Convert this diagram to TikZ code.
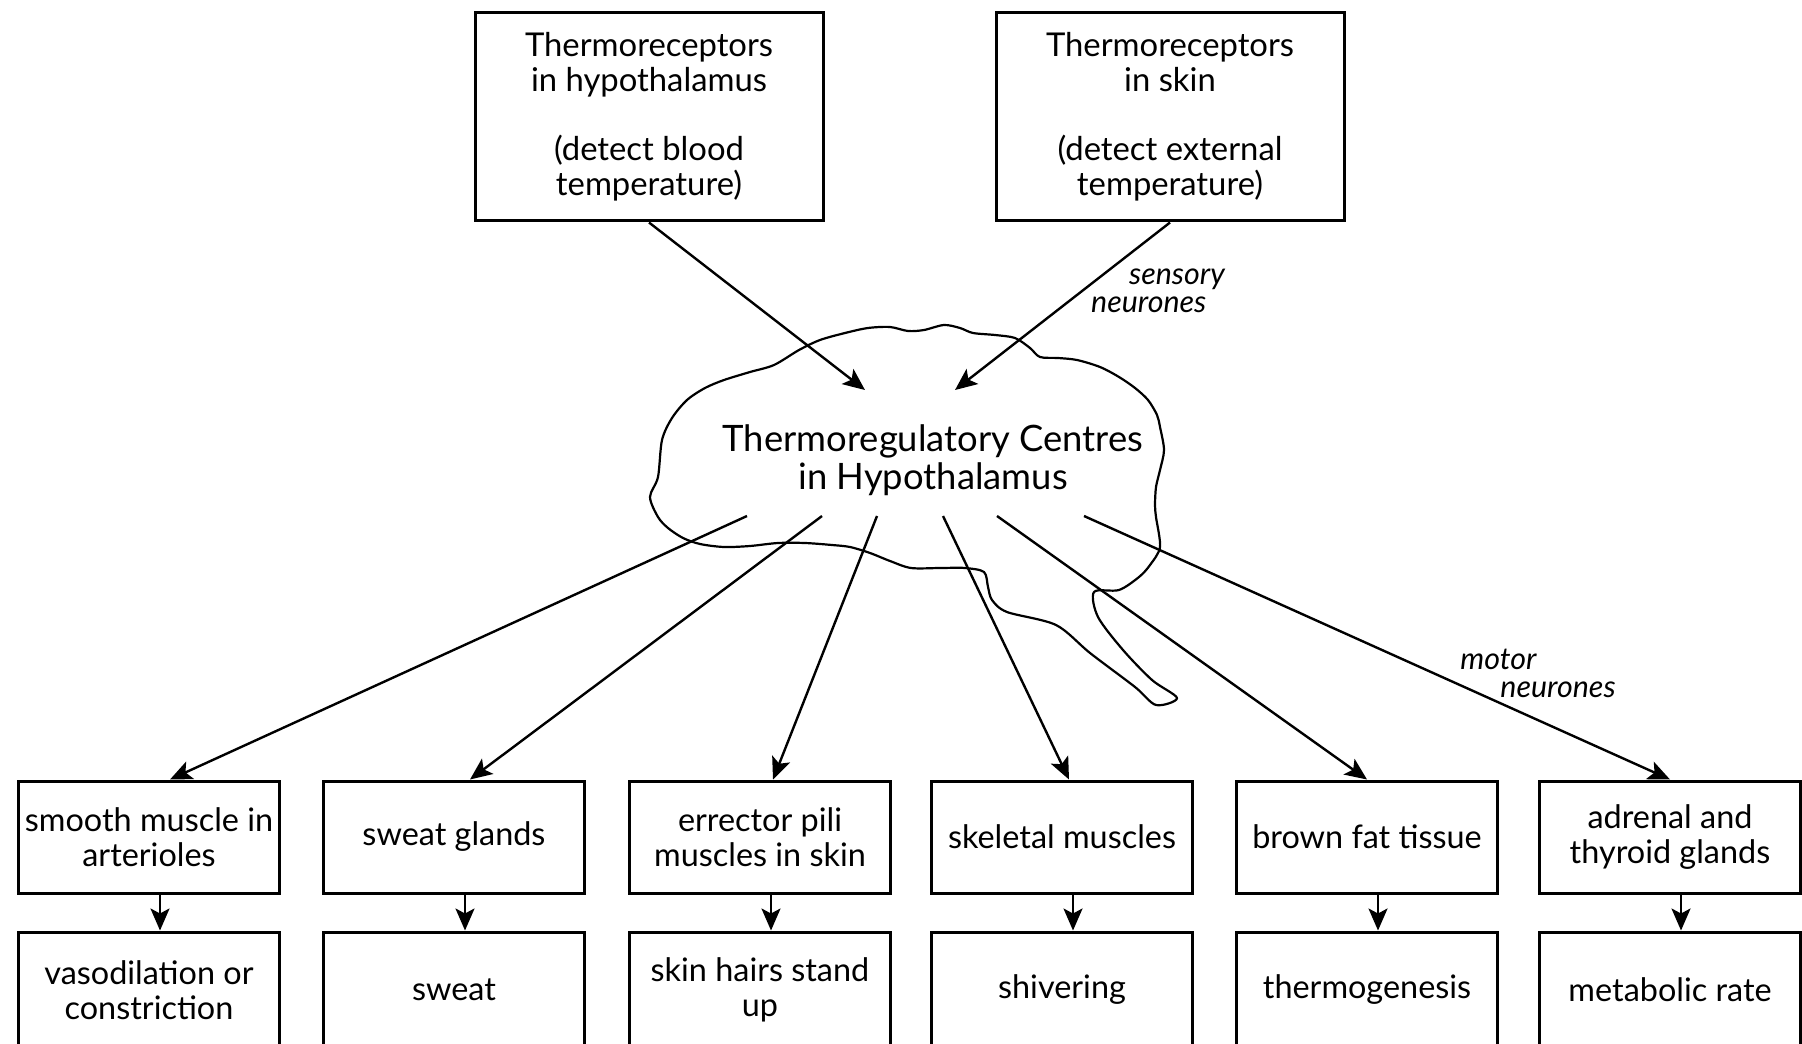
\documentclass[tikz,border=0pt]{standalone}
\usepackage{fontspec}
\setmainfont{Lato}
\usetikzlibrary{arrows.meta}
\tikzset{
  recv/.style={draw,line width=1.5pt,minimum width=174pt,minimum height=104pt,align=center,inner sep=2pt,font=\fontsize{16.4}{17.5}\selectfont},
  organ/.style={draw,line width=1.5pt,minimum width=130.5pt,minimum height=56pt,align=center,inner sep=1pt,font=\fontsize{16.2}{17.5}\selectfont},
  effect/.style={organ,minimum height=58pt},
  nerve/.style={line width=1.2pt,-{Stealth[length=11pt,width=9.5pt,inset=2.5pt]}},
  neurlabel/.style={align=left,inner sep=0pt,font=\fontsize{15.2}{14}\selectfont\itshape}
}
\newcommand{\organbox}[4]{\node[organ] (#1) at (#2,837) {#4};\coordinate (#1src) at #3;}
\newcommand{\effectbox}[3]{\node[effect] (#1) at (#2,990) {#3};}

\begin{document}
\begin{tikzpicture}[x=0.5pt,y=-0.5pt]
\useasboundingbox (0,0) rectangle (1802,1043);
% receptors
\node[recv] (hyp) at (649,117) {Thermoreceptors\\in hypothalamus\\[17pt](detect blood\\temperature)};
\node[recv] (skin) at (1170,117) {Thermoreceptors\\in skin\\[17pt](detect external\\temperature)};
% brain outline
\draw[line width=1.1pt,line join=round] plot[smooth cycle,tension=0.5] coordinates {
 (650,497) (658,477) (662,440) (672,418) (687,400) (705,388) (724,380) (750,372)
 (774,365) (799,350) (820,340) (845,333) (868,328) (890,327) (908,331) (924,330)
 (944,325) (960,328) (973,333) (995,335) (1015,338) (1030,348) (1040,357) (1058,358)
 (1077,360) (1100,367) (1119,377) (1135,388) (1148,400) (1157,415) (1160,427) (1164,450)
 (1160,470) (1156,487) (1155,505) (1156,517) (1160,547) (1150,565) (1139,577) (1119,590)
 (1094,592) (1098,617) (1123,650) (1152,680) (1177,698) (1156,705) (1135,687) (1090,653)
 (1056,625) (1007,612) (992,600) (988,587) (984,572) (965,568) (940,568) (911,568)
 (890,561) (870,553) (850,547) (832,545) (805,543) (778,543) (750,546) (724,547)
 (700,544) (683,538) (668,528) (658,517)};
\node[align=center,font=\fontsize{18.2}{19}\selectfont] (centre) at (933,460) {Thermoregulatory Centres\\in Hypothalamus};
\coordinate (in1) at (865,390);
\coordinate (in2) at (955,390);
% effectors
\organbox{sm}{149}{(747,516)}{smooth muscle in\\arterioles}
\organbox{sg}{454}{(822,516)}{sweat glands}
\organbox{ep}{760}{(877,516)}{errector pili\\muscles in skin}
\organbox{sk}{1062}{(943,516)}{skeletal muscles}
\organbox{bf}{1367}{(997,516)}{brown fat tissue}
\organbox{ad}{1670}{(1084,516)}{adrenal and\\thyroid glands}
% responses
\effectbox{vd}{149}{vasodilation or\\constriction}
\effectbox{sw}{454}{sweat}
\effectbox{hs}{760}{skin hairs stand\\up}
\effectbox{sh}{1062}{shivering}
\effectbox{tg}{1367}{thermogenesis}
\effectbox{mr}{1670}{metabolic rate}
% arrows
\draw[nerve] (hyp.south) -- (in1);
\draw[nerve] (skin.south) -- (in2);
\foreach \o/\dx in {sm/10.5pt,sg/8pt,ep/6.5pt,sk/3.5pt,bf/0pt,ad/0pt}
  \draw[nerve] (\o src) -- ([xshift=\dx]\o.north);
\foreach \a/\b in {sm/vd,sg/sw,ep/hs,sk/sh,bf/tg,ad/mr}
  \draw[nerve] ([xshift=5.5pt]\a.south) -- ([xshift=5.5pt]\b.north);
% labels
\node[neurlabel] (sens) at (1158,291) {\hspace*{19pt}sensory\\neurones};
\node[neurlabel] (mot) at (1538,673) {motor\\\hspace*{20pt}neurones};
\end{tikzpicture}
\end{document}
